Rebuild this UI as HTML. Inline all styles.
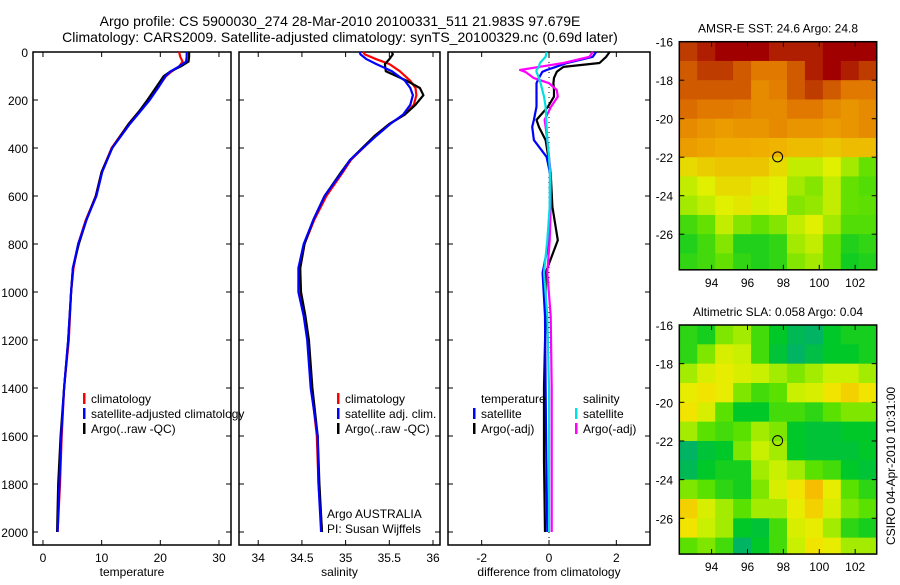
<!DOCTYPE html>
<html><head><meta charset="utf-8">
<style>
html,body{margin:0;padding:0;background:#fff;}
body{width:900px;height:580px;overflow:hidden;font-family:"Liberation Sans",sans-serif;}
svg text{font-family:"Liberation Sans",sans-serif;fill:#000;}
</style></head>
<body>
<svg id="fig" width="900" height="580" viewBox="0 0 900 580" xmlns="http://www.w3.org/2000/svg">
<text x="340" y="26" font-size="14" text-anchor="middle">Argo profile: CS 5900030_274 28-Mar-2010 20100331_511 21.983S 97.679E</text>
<text x="340" y="42" font-size="14" text-anchor="middle">Climatology: CARS2009. Satellite-adjusted climatology: synTS_20100329.nc (0.69d later)</text>
<g id="g"></g>
</svg>
<script>
// ---- profile data ----
const tDepth=[0,20,40,60,80,100,150,200,250,300,400,500,600,700,800,900,1000,1200,1400,1600,1800,2000];
const tSat=[24.5,24.5,24.4,23.2,21.8,20.9,19.6,18.2,16.5,14.8,11.8,10.1,9.1,7.4,6.0,5.1,4.8,4.3,3.6,3.1,2.8,2.5];
const tClim=[23.2,23.4,23.8,23.2,22.0,21.0,19.5,18.0,16.3,14.6,11.7,10.0,9.0,7.3,6.0,5.2,4.8,4.4,3.6,3.2,2.9,2.5];
const tArgo=[24.9,24.9,24.8,23.5,21.8,20.6,19.2,17.8,16.3,14.6,11.8,10.0,9.0,7.4,6.1,5.1,4.8,4.3,3.6,3.0,2.6,2.4];
const sDepth=[0,10,30,50,80,120,150,180,220,260,300,350,400,450,500,600,700,800,900,1000,1100,1200,1400,1600,1800,2000];
const sSat=[35.16,35.17,35.24,35.35,35.53,35.68,35.74,35.77,35.74,35.66,35.51,35.35,35.2,35.05,34.96,34.76,34.63,34.52,34.46,34.46,34.52,34.56,34.6,34.68,34.69,34.72];
const sClim=[35.2,35.22,35.35,35.5,35.62,35.74,35.8,35.81,35.78,35.68,35.5,35.33,35.2,35.06,34.97,34.78,34.64,34.53,34.48,34.48,34.53,34.57,34.61,34.67,34.69,34.73];
const sArgo=[35.53,35.54,35.5,35.45,35.46,35.7,35.85,35.89,35.8,35.68,35.5,35.33,35.19,35.05,34.95,34.76,34.63,34.53,34.48,34.49,34.54,34.58,34.62,34.68,34.7,34.73];
const dDepth=[0,20,46,62,75,83,108,130,158,186,228,283,312,367,437,505,645,784,920,1100,1400,1700,2000];
const dTSat=[1.4,1.3,0.53,0.2,-0.07,-0.2,-0.3,-0.37,-0.37,-0.37,-0.37,-0.45,-0.5,-0.45,-0.07,0.03,0.03,0,-0.19,-0.12,-0.1,-0.08,-0.05];
const dSSat=[-0.07,-0.1,-0.27,-0.3,-0.37,-0.37,-0.3,-0.25,-0.2,-0.15,-0.1,-0.08,-0.07,-0.05,0,0.03,0.02,-0.05,-0.15,-0.05,0,0,0];
const dSArgo=[1.3,1.2,0.43,-0.3,-0.86,-0.7,-0.46,0,0.23,0.26,0.06,-0.13,-0.1,-0.05,0,0.05,0.05,0.02,-0.05,0.05,0.08,0.08,0.08];
const dTArgo=[1.8,1.7,1.5,0.43,0.3,0.23,0.15,0.13,0.15,0.15,-0.03,-0.37,-0.3,-0.1,-0.02,0.05,0.1,0.26,-0.1,-0.1,-0.15,-0.15,-0.12];
const depthTicks=[0,200,400,600,800,1000,1200,1400,1600,1800,2000];
const tTicks=[0,10,20,30];
const sTicks=[34,34.5,35,35.5,36];
const sTickLabels=["34","34.5","35","35.5","36"];
const dTicks=[-2,0,2];
// ---- map data (1-degree cells, rows from -16 southward, cols from 92.2 east) ----
const lonTicks=[94,96,98,100,102];
const latTicks=[-16,-18,-20,-22,-24,-26];
const sstGrid=[
[0.9,0.95,1,1,1,0.95,0.95,0.95,1,1,1],
[0.85,0.9,0.9,0.85,0.8,0.8,0.85,0.95,1,0.95,0.9],
[0.85,0.85,0.85,0.85,0.75,0.78,0.85,0.9,0.85,0.8,0.8],
[0.82,0.8,0.8,0.78,0.75,0.75,0.8,0.8,0.75,0.72,0.75],
[0.75,0.72,0.7,0.72,0.72,0.75,0.72,0.72,0.7,0.72,0.75],
[0.7,0.68,0.66,0.66,0.65,0.64,0.62,0.62,0.6,0.62,0.62],
[0.55,0.58,0.6,0.6,0.6,0.55,0.45,0.45,0.5,0.4,0.3],
[0.45,0.5,0.55,0.55,0.52,0.5,0.4,0.35,0.45,0.3,0.25],
[0.4,0.45,0.5,0.52,0.48,0.5,0.35,0.38,0.45,0.3,0.28],
[0.2,0.3,0.45,0.35,0.3,0.35,0.45,0.5,0.4,0.25,0.25],
[0.1,0.2,0.35,0.1,0.1,0.15,0.4,0.45,0.3,0.1,0.15],
[0.15,0.2,0.3,0.15,0.1,0.15,0.35,0.4,0.3,0.05,0.1]];
const slaGrid=[
[0.4,0.35,0.55,0.6,0.45,0.3,0.15,0.1,0.3,0.35,0.35],
[0.4,0.55,0.7,0.65,0.45,0.25,0.1,0.2,0.3,0.3,0.35],
[0.6,0.7,0.75,0.7,0.65,0.6,0.55,0.6,0.65,0.65,0.6],
[0.75,0.8,0.75,0.55,0.45,0.5,0.65,0.7,0.8,0.85,0.8],
[0.8,0.7,0.5,0.3,0.3,0.45,0.45,0.4,0.5,0.55,0.55],
[0.6,0.5,0.45,0.5,0.6,0.55,0.3,0.25,0.25,0.3,0.3],
[0.1,0.25,0.3,0.55,0.65,0.6,0.3,0.25,0.25,0.25,0.3],
[0.15,0.3,0.35,0.35,0.6,0.65,0.6,0.5,0.45,0.3,0.25],
[0.55,0.5,0.4,0.35,0.55,0.7,0.8,0.9,0.75,0.5,0.4],
[0.85,0.7,0.6,0.5,0.6,0.6,0.75,0.85,0.7,0.55,0.5],
[0.8,0.65,0.6,0.3,0.25,0.45,0.7,0.75,0.6,0.4,0.35],
[0.5,0.55,0.45,0.1,0.3,0.45,0.65,0.8,0.75,0.6,0.6]];
const argoLon=97.679, argoLat=-21.983;

const NS="http://www.w3.org/2000/svg";
const G=document.getElementById('g');
function mk(tag,attrs,parent){const e=document.createElementNS(NS,tag);for(const k in attrs)e.setAttribute(k,attrs[k]);(parent||G).appendChild(e);return e;}
const yD=d=>52+d*0.24;
const PTOP=52,PBOT=545;
function panel(name,x0,x1,v0,v1,ticks,labels,xlabel,showY){
  const sx=v=>x0+(v-v0)/(v1-v0)*(x1-x0);
  const g=mk('g',{});
  
  
  mk('rect',{x:x0,y:PTOP,width:x1-x0,height:PBOT-PTOP,fill:'none',stroke:'#000','stroke-width':1.5},g);
  ticks.forEach((t,i)=>{const x=sx(t);
    mk('line',{x1:x,x2:x,y1:PBOT,y2:PBOT-5,stroke:'#000'},g);
    mk('line',{x1:x,x2:x,y1:PTOP,y2:PTOP+5,stroke:'#000'},g);
    const tx=mk('text',{x:x,y:562,'font-size':12,'text-anchor':'middle'},g);
    
    
    tx.textContent=labels[i];});
  depthTicks.forEach(d=>{const y=yD(d);
    mk('line',{x1:x0,x2:x0+5,y1:y,y2:y,stroke:'#000'},g);
    mk('line',{x1:x1,x2:x1-5,y1:y,y2:y,stroke:'#000'},g);
    if(showY){const tx=mk('text',{x:28,y:y+5,'font-size':12,'text-anchor':'end'},g);
      
      
      tx.textContent=d;}});
  const xl=mk('text',{x:(x0+x1)/2,y:576,'font-size':12,'text-anchor':'middle'},g);
  
  
  xl.textContent=xlabel;
  return {sx,g};
}
function line(p,depths,vals,color,name){
  const pts=vals.map((v,i)=>p.sx(v).toFixed(1)+','+yD(depths[i]).toFixed(1)).join(' ');
  const e=mk('polyline',{points:pts,fill:'none',stroke:color,'stroke-width':2.2,'stroke-linejoin':'round'},p.g);
  
  
}
function legend(g,x,y,color,label){
  if(color) mk('rect',{x:x,y:y-10,width:2.5,height:11,fill:color},g);
  const t=mk('text',{x:x+8,y:y,'font-size':12},g);
  
  
  t.textContent=label;
}
// panel 1
const p1=panel('temperature-panel',33,231,-1.7,32.05,tTicks,tTicks.map(String),'temperature',true);
line(p1,tDepth,tClim,'#ff0000','temp-climatology-line');
line(p1,tDepth,tArgo,'#000000','temp-argo-line');
line(p1,tDepth,tSat,'#0000ff','temp-satellite-line');
legend(p1.g,83,403,'#ff0000','climatology');
legend(p1.g,83,418,'#0000ff','satellite-adjusted climatology');
legend(p1.g,83,433,'#000000','Argo(..raw -QC)');
// panel 2
const p2=panel('salinity-panel',239,440,33.78,36.08,sTicks,sTickLabels,'salinity',false);
line(p2,sDepth,sClim,'#ff0000','sal-climatology-line');
line(p2,sDepth,sArgo,'#000000','sal-argo-line');
line(p2,sDepth,sSat,'#0000ff','sal-satellite-line');
legend(p2.g,337,403,'#ff0000','climatology');
legend(p2.g,337,418,'#0000ff','satellite adj. clim.');
legend(p2.g,337,433,'#000000','Argo(..raw -QC)');
legend(p2.g,319,518,null,'Argo AUSTRALIA');
legend(p2.g,319,533,null,'PI: Susan Wijffels');
// panel 3
const p3=panel('difference-panel',448,650,-3,3,dTicks,dTicks.map(String),'difference from climatology',false);
mk('line',{x1:p3.sx(0),x2:p3.sx(0),y1:PTOP,y2:PBOT,stroke:'#000','stroke-dasharray':'1,4'},p3.g);
line(p3,dDepth,dTArgo,'#000000','temp-argo-diff-line');
line(p3,dDepth,dTSat,'#0000ff','temp-satellite-diff-line');
line(p3,dDepth,dSArgo,'#ff00ff','sal-argo-diff-line');
line(p3,dDepth,dSSat,'#00e0e0','sal-satellite-diff-line');
legend(p3.g,473,403,null,'temperature');
legend(p3.g,575,403,null,'salinity');
legend(p3.g,473,418,'#0000ff','satellite');
legend(p3.g,473,433,'#000000','Argo(-adj)');
legend(p3.g,575,418,'#00e0e0','satellite');
legend(p3.g,575,433,'#ff00ff','Argo(-adj)');
// maps
function interp(stops,v){v=Math.max(0,Math.min(1,v));
  for(let i=1;i<stops.length;i++){if(v<=stops[i][0]){const a=stops[i-1],b=stops[i],f=(v-a[0])/(b[0]-a[0]);
    return 'rgb('+[1,2,3].map(k=>Math.round(a[k]+(b[k]-a[k])*f)).join(',')+')';}}
  const l=stops[stops.length-1];return 'rgb('+l[1]+','+l[2]+','+l[3]+')';}
const sstStops=[[0,0,200,40],[0.3,100,225,0],[0.5,225,240,0],[0.65,240,175,0],[0.8,225,120,0],[0.9,190,60,0],[1,160,0,0]];
const slaStops=[[0,0,170,130],[0.3,0,200,40],[0.5,90,225,0],[0.65,200,240,0],[0.78,240,235,0],[0.9,245,190,0],[1,240,170,0]];
function map(name,title,grid,stops,ytop,pxPerLat){
  const x0=679.3,x1=876.7,lon0=92.2,lon1=103.2;
  const sx=l=>x0+(l-lon0)/(lon1-lon0)*(x1-x0);
  const sy=la=>ytop+(-16-la)*pxPerLat;
  const ybot=sy(-27.85);
  const g=mk('g',{});
  
  
  grid.forEach((row,r)=>row.forEach((v,c)=>{
    const xa=sx(lon0+c),xb=Math.min(sx(lon0+c+1),x1),ya=sy(-16-r),yb=Math.min(sy(-17-r),ybot);
    mk('rect',{x:xa,y:ya,width:xb-xa+0.5,height:yb-ya+0.5,fill:interp(stops,v)},g);}));
  mk('rect',{x:x0,y:ytop,width:x1-x0,height:ybot-ytop,fill:'none',stroke:'#000','stroke-width':1.5},g);
  lonTicks.forEach(l=>{const x=sx(l);
    mk('line',{x1:x,x2:x,y1:ybot,y2:ybot-5,stroke:'#000'},g);
    mk('line',{x1:x,x2:x,y1:ytop,y2:ytop+5,stroke:'#000'},g);
    const t=mk('text',{x:x,y:ybot+17,'font-size':12,'text-anchor':'middle'},g);
    
    
    t.textContent=l;});
  latTicks.forEach(la=>{const y=sy(la);
    mk('line',{x1:x0,x2:x0+5,y1:y,y2:y,stroke:'#000'},g);
    mk('line',{x1:x1,x2:x1-5,y1:y,y2:y,stroke:'#000'},g);
    const t=mk('text',{x:673,y:y+5,'font-size':12,'text-anchor':'end'},g);
    
    
    t.textContent=la;});
  const c=mk('circle',{cx:sx(argoLon),cy:sy(argoLat),r:5,fill:'none',stroke:'#000','stroke-width':1},g);
  
  
  const t=mk('text',{x:778,y:ytop-9,'font-size':12,'text-anchor':'middle'},g);
  
  
  t.textContent=title;
}
map('sst-map','AMSR-E SST: 24.6 Argo: 24.8',sstGrid,sstStops,41.7,19.25);
map('sla-map','Altimetric SLA: 0.058 Argo: 0.04',slaGrid,slaStops,325,19.33);
const ft=mk('text',{x:0,y:0,'font-size':12,'text-anchor':'middle',transform:'translate(895,466) rotate(-90)'});


ft.textContent='CSIRO 04-Apr-2010 10:31:00';
</script>
</body></html>
